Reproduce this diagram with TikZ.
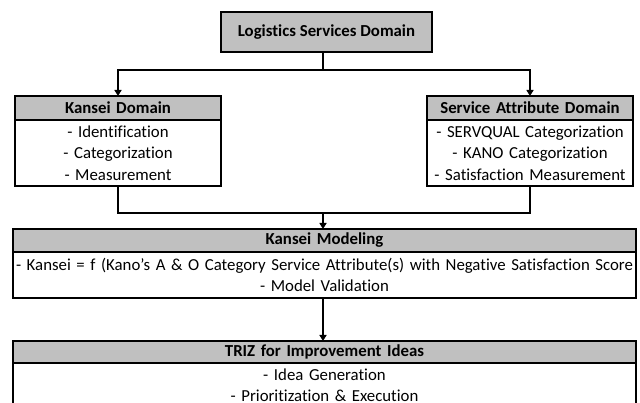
\documentclass[tikz,border=0pt]{standalone}
\usepackage{fontspec}
\setmainfont{Carlito}[Ligatures=NoCommon]
\usetikzlibrary{positioning,arrows.meta}
\definecolor{headgray}{RGB}{192,192,192}
\tikzset{
  head/.style = {draw, line width=1.6pt, fill=headgray, font=\fontsize{16.8}{19}\selectfont\bfseries,
                 inner sep=0pt, outer sep=0pt, align=center},
  body/.style = {draw, line width=1.6pt, fill=white, font=\fontsize{16.8}{21.5}\selectfont,
                 inner sep=0pt, outer sep=0pt, align=center},
  link/.style = {line width=2.4pt, line join=miter},
  flow/.style = {-{Triangle[length=6pt,width=7pt]}, line width=2.4pt},
}

\begin{document}
\begin{tikzpicture}[x=1pt, y=-1pt]
  \useasboundingbox (0,0) rectangle (640,403);
  % top level
  \node[head, minimum width=211pt, minimum height=40pt] (logistics) at (326.5,32) {Logistics Services Domain};
  % two domains
  \node[head, text width=206pt, minimum height=24pt] (kanseihead) at (118,108) {Kansei Domain};
  \node[body, text width=206pt, minimum height=66pt, below=0pt of kanseihead] (kanseibody)
    {- Identification\\- Categorization\\- Measurement};
  \node[head, text width=206pt, minimum height=24pt] (attrhead) at (530,108) {Service Attribute Domain};
  \node[body, text width=206pt, minimum height=66pt, below=0pt of attrhead] (attrbody)
    {- SERVQUAL Categorization\\- KANO Categorization\\- Satisfaction Measurement};
  % modeling
  \node[head, text width=623pt, minimum height=23pt] (modelhead) at (324.5,240.5) {Kansei Modeling};
  \node[body, text width=623pt, minimum height=46pt, below=0pt of modelhead] (modelbody)
    {- Kansei = f (Kano's A \& O Category Service Attribute(s) with Negative Satisfaction Score\\- Model Validation};
  % improvement
  \node[head, text width=623pt, minimum height=22pt] (trizhead) at (324.5,352) {TRIZ for Improvement Ideas};
  \node[body, text width=623pt, minimum height=44pt, below=0pt of trizhead] (trizbody)
    {- Idea Generation\\- Prioritization \& Execution};
  % connectors
  \coordinate (split) at (323,70);
  \coordinate (merge) at (323,213);
  \draw[link] (logistics.south -| split) -- (split);
  \draw[flow] (split) -| (kanseihead.north);
  \draw[flow] (split) -| (attrhead.north);
  \draw[link] (kanseibody.south) |- (merge);
  \draw[link] (attrbody.south) |- (merge);
  \draw[flow] (merge) -- (modelhead.north -| merge);
  \draw[flow] (modelbody.south -| merge) -- (trizhead.north -| merge);
\end{tikzpicture}
\end{document}
